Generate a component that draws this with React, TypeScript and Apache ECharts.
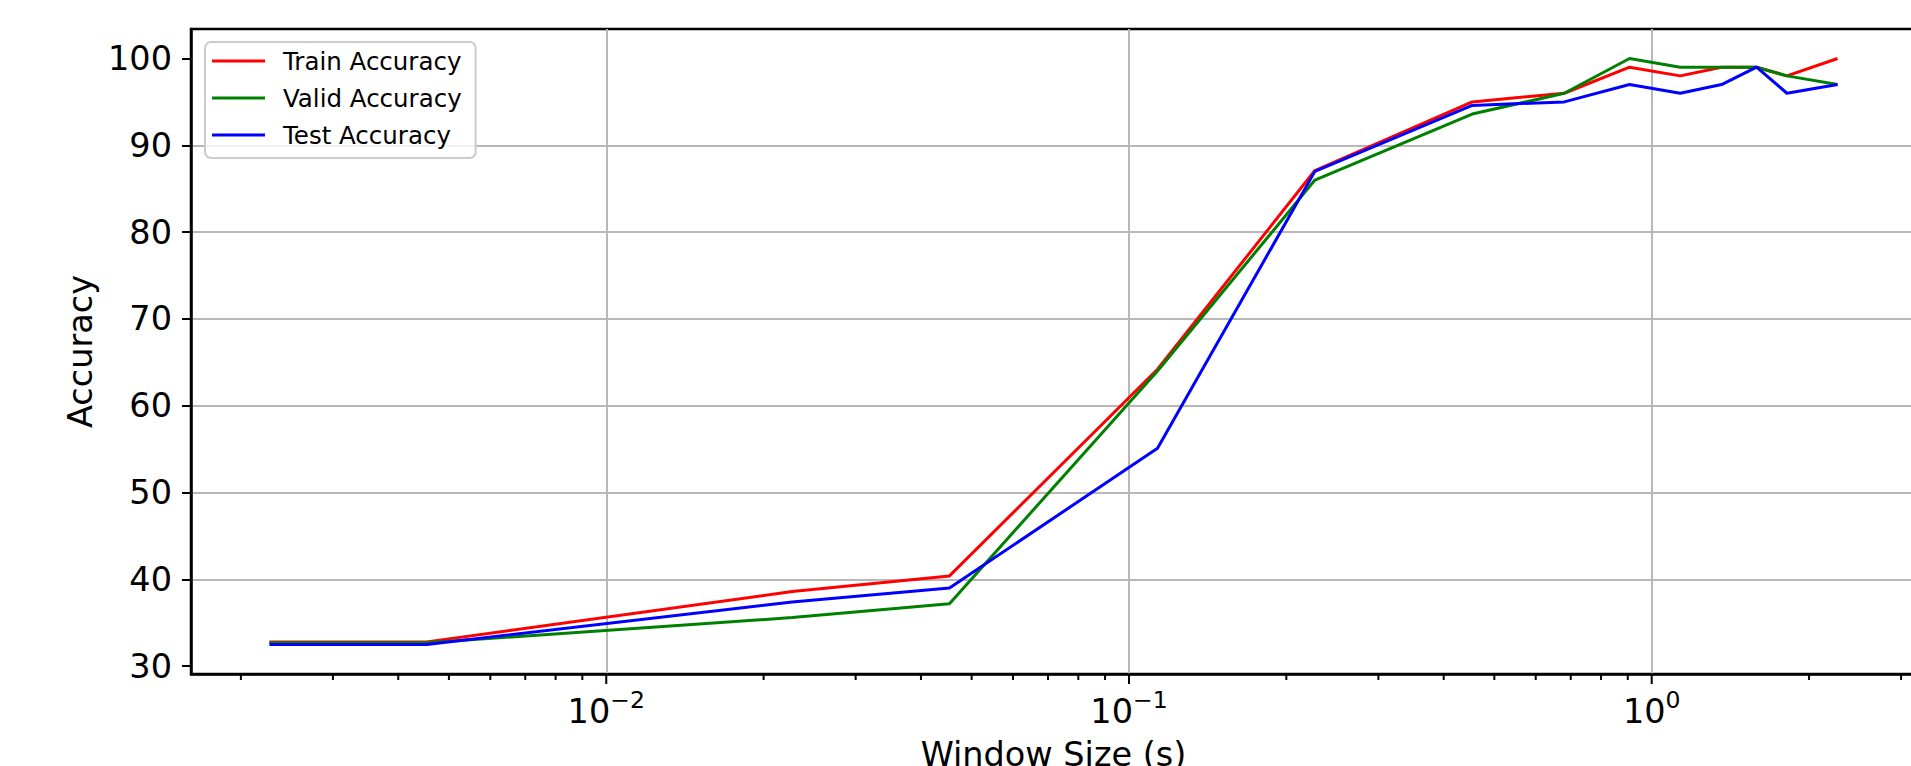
import React, { useEffect, useRef } from 'react';
import * as echarts from 'echarts';

// Window sizes in seconds (x, log scale)
const windowSizes = [0.002268, 0.004535, 0.02268, 0.04535, 0.1134, 0.2268, 0.4535, 0.6803, 0.907, 1.1338, 1.3605, 1.5873, 1.8141, 2.2676];
const trainAccuracy = [32.8, 32.8, 38.6, 40.4, 64.2, 87.1, 95.0, 96.0, 99.0, 98.0, 99.0, 99.0, 98.0, 100.0];
const validAccuracy = [32.7, 32.7, 35.6, 37.2, 64.0, 86.0, 93.6, 96.0, 100.0, 99.0, 99.0, 99.0, 98.0, 97.0];
const testAccuracy = [32.5, 32.5, 37.4, 39.0, 55.1, 87.0, 94.6, 95.0, 97.0, 96.0, 97.0, 99.0, 96.0, 97.0];

const seriesNames = ['Train Accuracy', 'Valid Accuracy', 'Test Accuracy'];
const seriesColors = ['#ff0000', '#008000', '#0000ff'];

const yTicks = [30, 40, 50, 60, 70, 80, 90, 100];
const xMajorTicks = [0.01, 0.1, 1];
const xMinorTicks = [
  0.002, 0.003, 0.004, 0.005, 0.006, 0.007, 0.008, 0.009,
  0.02, 0.03, 0.04, 0.05, 0.06, 0.07, 0.08, 0.09,
  0.2, 0.3, 0.4, 0.5, 0.6, 0.7, 0.8, 0.9,
  2, 3,
];

const X_MIN = 0.0016054;
const X_MAX = 3.2036;
const Y_MIN = 29.1;
const Y_MAX = 103.4;

const FONT = 'DejaVu Sans';

export default function App() {
  const ref = useRef<HTMLDivElement>(null);

  useEffect(() => {
    if (!ref.current) return;
    const chart = echarts.init(ref.current, undefined, { renderer: 'svg' });

    const lineData = [trainAccuracy, validAccuracy, testAccuracy];

    const tickSeries = (ticks: number[], len: number, name: string) => ({
      type: 'custom',
      name,
      silent: true,
      clip: false,
      z: 5,
      data: ticks.map((v) => [v, Y_MIN]),
      renderItem: (params: any, api: any) => {
        const p = api.coord([api.value(0), Y_MIN]);
        return {
          type: 'line',
          shape: { x1: p[0], y1: p[1], x2: p[0], y2: p[1] + len },
          style: { stroke: '#000', lineWidth: 2 },
        };
      },
    });

    chart.setOption({
      animation: false,
      backgroundColor: '#ffffff',
      grid: {
        left: 191,
        top: 29,
        width: 1725,
        height: 645,
        show: true,
        borderColor: '#000',
        borderWidth: 2.5,
        backgroundColor: 'transparent',
        containLabel: false,
        outerBoundsMode: 'none',
      },
      legend: {
        data: seriesNames,
        orient: 'vertical',
        left: 205,
        top: 42,
        icon: 'rect',
        itemWidth: 53,
        itemHeight: 3,
        itemGap: 11,
        padding: [6, 14, 10, 7],
        backgroundColor: 'rgba(255,255,255,0.8)',
        borderColor: '#cccccc',
        borderWidth: 2,
        borderRadius: 6,
        textStyle: {
          fontFamily: FONT,
          fontSize: 24.5,
          color: '#000',
          lineHeight: 26,
          padding: [0, 0, 0, 13],
        },
      },
      xAxis: {
        type: 'log',
        logBase: 10,
        min: X_MIN,
        max: X_MAX,
        name: 'Window Size (s)',
        nameLocation: 'middle',
        nameGap: 63,
        nameTextStyle: { fontFamily: FONT, fontSize: 33.5, color: '#000' },
        axisLine: { show: true, onZero: false, lineStyle: { color: '#000', width: 2.5 } },
        axisTick: { show: false },
        minorTick: { show: false },
        axisLabel: {
          margin: 14,
          showMinLabel: false,
          showMaxLabel: false,
          formatter: (value: number) => {
            const l = Math.log10(value);
            const e = Math.round(l);
            if (Math.abs(l - e) > 1e-6) return '';
            const exp = e < 0 ? '\u2212' + String(-e) : String(e);
            return `{b|10}{s|${exp}}`;
          },
          rich: {
            b: { fontFamily: FONT, fontSize: 33.5, color: '#000', lineHeight: 40, verticalAlign: 'bottom' },
            s: { fontFamily: FONT, fontSize: 23.5, color: '#000', lineHeight: 40, verticalAlign: 'top' },
          },
        },
        splitLine: {
          show: true,
          showMinLine: false,
          showMaxLine: false,
          lineStyle: { color: '#b8b8b8', width: 2 },
        },
      },
      yAxis: {
        type: 'value',
        min: Y_MIN,
        max: Y_MAX,
        name: 'Accuracy',
        nameLocation: 'middle',
        nameGap: 90,
        nameTextStyle: { fontFamily: FONT, fontSize: 33.5, color: '#000' },
        axisLine: { show: true, onZero: false, lineStyle: { color: '#000', width: 2.5 } },
        axisTick: { show: true, length: 9, customValues: yTicks, lineStyle: { color: '#000', width: 2 } },
        axisLabel: {
          customValues: yTicks,
          margin: 19,
          fontFamily: FONT,
          fontSize: 33.5,
          color: '#000',
        },
        splitLine: {
          show: true,
          showMinLine: false,
          showMaxLine: false,
          lineStyle: { color: '#b8b8b8', width: 2 },
        },
      },
      series: [
        ...seriesNames.map((name, i) => ({
          type: 'line',
          name,
          data: windowSizes.map((x, j) => [x, lineData[i][j]]),
          symbol: 'none',
          showSymbol: false,
          color: seriesColors[i],
          lineStyle: { color: seriesColors[i], width: 3 },
          z: 3,
        })),
        tickSeries(xMajorTicks, 10, 'majorTicks'),
        tickSeries(xMinorTicks, 6, 'minorTicks'),
      ],
    });

    return () => {
      chart.dispose();
    };
  }, []);

  return (
    <div
      ref={ref}
      style={{ position: 'fixed', left: 0, top: 0, width: 1911, height: 766, background: '#fff' }}
    />
  );
}
